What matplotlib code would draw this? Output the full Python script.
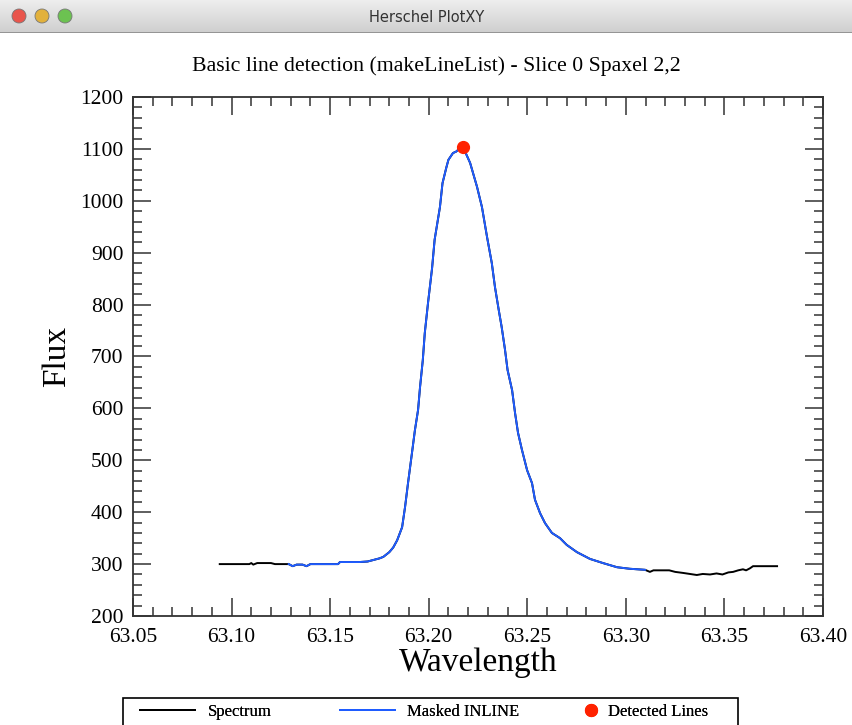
import matplotlib
matplotlib.use("Agg")
import matplotlib.pyplot as plt
from matplotlib.patches import Circle, Rectangle
from matplotlib.ticker import MultipleLocator
import numpy as np

# Spectrum (wavelength in micron, flux)
wavelength = [63.094, 63.100, 63.105, 63.109, 63.110, 63.111, 63.113, 63.120,
              63.122, 63.129, 63.131, 63.133, 63.136, 63.138, 63.140, 63.150,
              63.154, 63.155, 63.165, 63.169, 63.172, 63.175, 63.177, 63.180,
              63.182, 63.184, 63.1865, 63.188, 63.1895, 63.1915, 63.193, 63.1946,
              63.1956, 63.197, 63.198, 63.1997, 63.2017, 63.203, 63.2057, 63.207,
              63.209, 63.210, 63.2123, 63.214, 63.216, 63.2174, 63.219, 63.221,
              63.2245, 63.227, 63.2296, 63.232, 63.2336, 63.2355, 63.237, 63.2387,
              63.240, 63.2423, 63.2438, 63.2453, 63.2473, 63.2499, 63.2524, 63.2539,
              63.2565, 63.259, 63.2625, 63.2666, 63.270, 63.2752, 63.2818, 63.2884,
              63.2955, 63.302, 63.3097, 63.3122, 63.314, 63.322, 63.325, 63.329,
              63.336, 63.339, 63.3427, 63.346, 63.349, 63.352, 63.3544, 63.357,
              63.3594, 63.361, 63.363, 63.3645, 63.3767]
flux = [300, 300, 300, 300, 302, 299, 302, 302,
        300, 300, 296, 299, 299, 296, 300, 300,
        300, 304, 304, 305, 308, 311, 314, 323,
        332, 346, 371, 410, 456, 514, 558, 597,
        641, 693, 745, 805, 870, 925, 988, 1034,
        1065, 1079, 1092, 1095, 1102, 1104, 1090, 1073,
        1027, 988, 930, 880, 834, 790, 757, 713,
        674, 635, 591, 553, 520, 481, 456, 424,
        398, 379, 360, 350, 337, 323, 310, 302,
        294, 291, 289, 285, 288, 288, 285, 283,
        279, 281, 280, 282, 280, 284, 285, 288,
        290, 288, 292, 296, 296]

# INLINE mask limits and detected line
mask_start, mask_end = 63.129, 63.3097
detected_wave = [63.2174]
detected_flux = [1104]

wl = np.array(wavelength)
fl = np.array(flux)
inline = (wl >= mask_start) & (wl <= mask_end)

W, H = 853, 725
fig = plt.figure(figsize=(W / 100, H / 100), dpi=100)
serif = "Liberation Serif"

# window title bar
bar = fig.add_axes([0, 1 - 33 / H, 1, 33 / H])
bar.set_xlim(0, W)
bar.set_ylim(33, 0)
bar.axis("off")
grad = np.linspace(0.93, 0.81, 50).reshape(-1, 1)
bar.imshow(grad, cmap="gray", vmin=0, vmax=1, aspect="auto", extent=[0, W, 33, 0])
bar.plot([0, W], [32.5, 32.5], color="#8a8a8a", lw=1.2)
for cx, c in zip([19, 42, 65], ["#e9554c", "#e2b13c", "#6cc251"]):
    bar.add_patch(Circle((cx, 16), 7, facecolor=c, edgecolor="#777777", lw=0.6))
bar.text(427, 17, "Herschel PlotXY", ha="center", va="center",
         fontsize=10.5, family="DejaVu Sans", color="#333333")

ax = fig.add_axes([133 / W, 1 - 616 / H, 690 / W, 519 / H])
spec_line, = ax.plot(wl, fl, color="black", lw=1.4, label="Spectrum")
mask_line, = ax.plot(wl[inline], fl[inline], color="#1f5cff", lw=1.4, label="Masked INLINE")
det_pts, = ax.plot(detected_wave, detected_flux, "o", color="#ff2200", ms=8.5,
                   label="Detected Lines", zorder=5)

ax.set_xlim(63.05, 63.40)
ax.set_ylim(200, 1200)
ax.xaxis.set_major_locator(MultipleLocator(0.05))
ax.xaxis.set_minor_locator(MultipleLocator(0.01))
ax.yaxis.set_major_locator(MultipleLocator(100))
ax.yaxis.set_minor_locator(MultipleLocator(20))
ax.xaxis.set_major_formatter(plt.FuncFormatter(lambda v, p: f"{v:.2f}"))
ax.tick_params(which="both", direction="in", top=True, right=True,
               width=1.1, labelsize=15.5, color="#333333")
ax.tick_params(which="major", length=13, pad=7)
ax.tick_params(axis="x", which="major", pad=9)
ax.tick_params(which="minor", length=6.5)
for lab in ax.get_xticklabels() + ax.get_yticklabels():
    lab.set_family(serif)
for s in ax.spines.values():
    s.set_linewidth(1.3)
    s.set_color("#333333")

ax.set_xlabel("Wavelength", family=serif, fontsize=24, labelpad=0)
ax.set_ylabel("Flux", family=serif, fontsize=24, labelpad=6)
fig.text(436 / W, 1 - 66 / H, "Basic line detection (makeLineList) - Slice 0 Spaxel 2,2",
         ha="center", va="center", family=serif, fontsize=15.7)

# legend: framed strip at the bottom with three equally spaced entries
fig.add_artist(Rectangle((123 / W, -0.02), 615 / W, 0.02 + 1 - 698 / H,
                         transform=fig.transFigure, facecolor="white",
                         edgecolor="black", lw=1.2))
entries = [(spec_line, "Spectrum", 140, 3.3, 0.75),
           (mask_line, "Masked INLINE", 340, 3.3, 0.75),
           (det_pts, "Detected Lines", 584, 0.85, 0.6)]
for handle, text, x0, hl, tp in entries:
    lg = fig.legend([handle], [text], loc="center left",
                    bbox_to_anchor=(x0 / W, 1 - 712 / H), frameon=False,
                    borderpad=0, borderaxespad=0, handlelength=hl, handletextpad=tp,
                    numpoints=1, prop={"family": serif, "size": 12})
    fig.add_artist(lg)

fig.savefig("out.png", dpi=100)
